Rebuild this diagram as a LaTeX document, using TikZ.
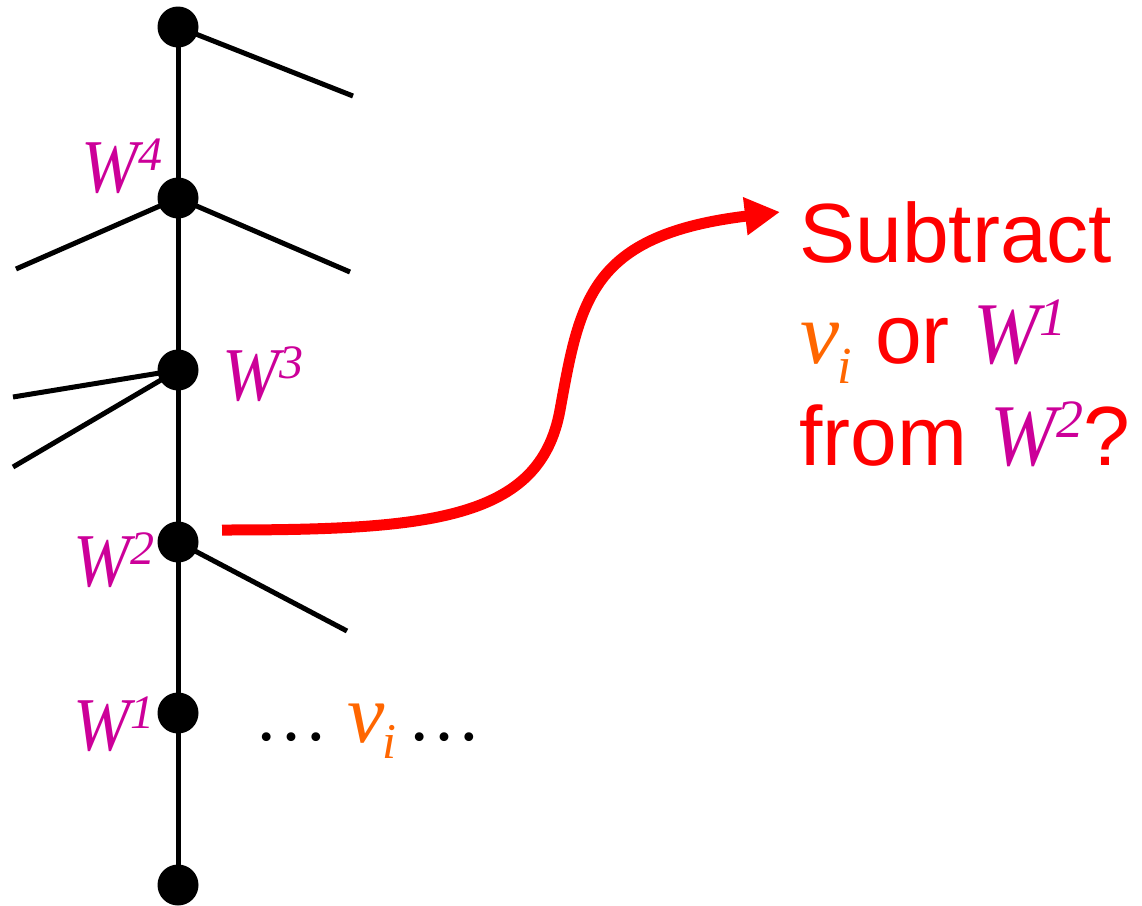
\documentclass[tikz,border=0pt]{standalone}
\usepackage{fontspec}
\setmainfont{Liberation Serif}
\setsansfont{Liberation Sans}
\newfontfamily\tmsit{Liberation Serif Italic}
\usetikzlibrary{arrows.meta,backgrounds}
\definecolor{wmag}{RGB}{204,0,153}
\definecolor{vorange}{RGB}{255,102,0}
\definecolor{qred}{RGB}{255,0,0}
% #1 size, #2 superscript size, #3 raise, #4 digit
\newcommand\WW[4]{{\color{wmag}\tmsit\fontsize{#1}{#1}\selectfont\scalebox{0.9}[1]{W}\raisebox{#3}{\fontsize{#2}{#2}\selectfont #4}}}
% #1 size, #2 subscript size, #3 lower
\newcommand\VV[3]{{\color{vorange}\tmsit\fontsize{#1}{#1}\selectfont v\kern-1pt\raisebox{-#3}{\fontsize{#2}{#2}\selectfont i}}}
\begin{document}
\begin{tikzpicture}[x=0.5pt,y=-0.5pt,
  dot/.style={circle,fill=black,minimum size=20.5pt,inner sep=0pt},
  branch/.style={line width=2.5pt,black},
  lab/.style={anchor=base west,inner sep=0pt},
  qtext/.style={anchor=base west,inner sep=0pt,text=qred,font=\sffamily\fontsize{42}{42}\selectfont},
  qarrow/.style={qred,line width=5.5pt,-{Triangle[length=17.5pt,width=18pt]}}]
\useasboundingbox (0,0) rectangle (1142,906);
% tree nodes
\node[dot] (n0) at (178,27) {};
\node[dot] (n4) at (178,198) {};
\node[dot] (n3) at (178,370) {};
\node[dot] (n2) at (178,542) {};
\node[dot] (n1) at (178,713) {};
\node[dot] (nb) at (178,885) {};
% branch ends
\coordinate (t0) at (353,96);
\coordinate (t4l) at (16,269);
\coordinate (t4r) at (350,272);
\coordinate (t3a) at (13,397);
\coordinate (t3b) at (13,467);
\coordinate (t2) at (347,631);
\begin{scope}[on background layer]
\draw[branch] (n0.center) -- (nb.center);
\draw[branch] (n0.center) -- (t0);
\draw[branch] (n4.center) -- (t4l);
\draw[branch] (n4.center) -- (t4r);
\draw[branch] (n3.center) -- (t3a);
\draw[branch] (n3.center) -- (t3b);
\draw[branch] (n2.center) -- (t2);
\end{scope}
% labels
\node[lab] (l4) at (81,192) {\WW{38}{24}{11pt}{4}};
\node[lab] (l3) at (222,400) {\WW{38}{24}{11pt}{3}};
\node[lab] (l2) at (73,586) {\WW{38}{24}{11pt}{2}};
\node[lab] (l1) at (73,750) {\WW{38}{24}{11pt}{1}};
% dots and v_i
\node[lab] (dl) at (254,740) {\rmfamily\fontsize{37}{37}\selectfont …};
\node[lab] (vi) at (347,742) {\VV{42}{25}{8pt}};
\node[lab] (dr) at (407,740) {\rmfamily\fontsize{37}{37}\selectfont …};
% question
\node[qtext] (q1) at (799,262) {Subtract};
\node[qtext] (q2) at (800,363) {\VV{44}{26}{10pt} or \WW{44}{27}{14pt}{1}};
\node[qtext] (q3) at (799,465) {from \WW{44}{27}{14pt}{2}?};
% red arrow
\coordinate (rs) at (222,530);
\coordinate (rm) at (560,410);
\coordinate (re) at (780,212);
\draw[qarrow] (rs) .. controls (430,530) and (540,520) .. (rm) .. controls (580,300) and (590,235) .. (re);
\end{tikzpicture}
\end{document}
